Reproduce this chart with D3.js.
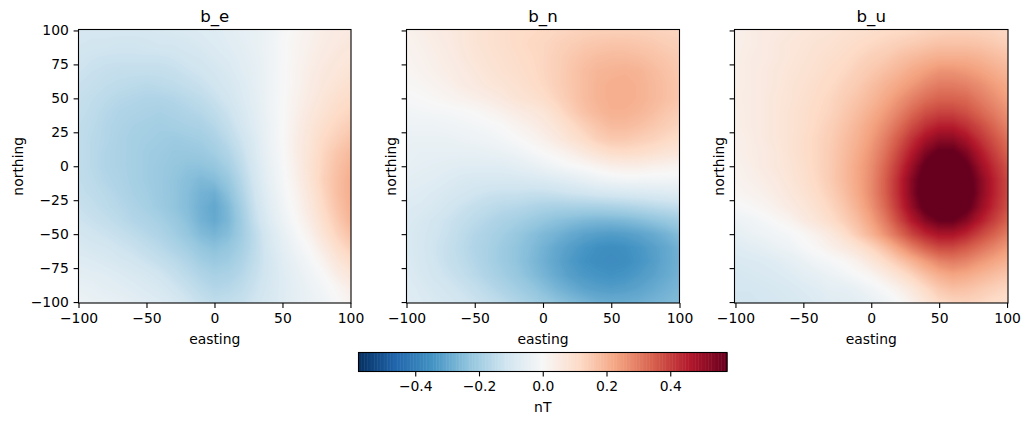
<!DOCTYPE html>
<html>
<head>
<meta charset="utf-8">
<style>
html,body{margin:0;padding:0;background:#fff}
text{font-family:"DejaVu Sans",sans-serif;fill:#000}
</style>
<script src="https://cdn.jsdelivr.net/npm/d3@7"></script>
</head>
<body>
<svg id="fig" width="1030" height="424"></svg>
<script>
// Magnetic field components (nT) on a 10 m grid; rows run north to south, columns west to east.
const eastingNodes = [-100,-90,-80,-70,-60,-50,-40,-30,-20,-10,0,10,20,30,40,50,60,70,80,90,100];
const northingNodes = [100,90,80,70,60,50,40,30,20,10,0,-10,-20,-30,-40,-50,-60,-70,-80,-90,-100];

const bE = [
[-.10,-.10,-.10,-.10,-.10,-.10,-.095,-.09,-.085,-.08,-.075,-.065,-.055,-.045,-.03,-.01,.01,.025,.04,.05,.055],
[-.105,-.11,-.11,-.115,-.115,-.11,-.105,-.105,-.10,-.09,-.08,-.07,-.06,-.045,-.03,-.005,.015,.03,.045,.055,.065],
[-.115,-.12,-.125,-.125,-.125,-.125,-.125,-.12,-.11,-.105,-.09,-.08,-.065,-.05,-.03,-.007,.015,.035,.05,.065,.07],
[-.12,-.13,-.135,-.14,-.14,-.14,-.14,-.135,-.125,-.115,-.105,-.09,-.07,-.055,-.03,-.005,.02,.04,.06,.07,.08],
[-.13,-.135,-.145,-.15,-.155,-.16,-.155,-.15,-.14,-.13,-.115,-.10,-.08,-.055,-.03,-.005,.02,.045,.065,.08,.095],
[-.135,-.145,-.155,-.165,-.17,-.175,-.175,-.17,-.16,-.15,-.13,-.11,-.085,-.06,-.03,-.004,.025,.05,.075,.095,.11],
[-.14,-.15,-.165,-.175,-.18,-.185,-.19,-.185,-.175,-.165,-.15,-.125,-.095,-.065,-.03,-.003,.03,.06,.085,.11,.125],
[-.145,-.155,-.17,-.18,-.19,-.195,-.20,-.195,-.19,-.185,-.165,-.14,-.105,-.07,-.035,-.002,.035,.07,.10,.125,.145],
[-.145,-.16,-.17,-.185,-.195,-.20,-.205,-.21,-.205,-.20,-.185,-.155,-.12,-.08,-.035,-.002,.04,.075,.115,.14,.165],
[-.145,-.16,-.175,-.185,-.195,-.205,-.21,-.22,-.22,-.215,-.20,-.175,-.135,-.085,-.04,-.005,.04,.08,.125,.16,.185],
[-.145,-.16,-.175,-.185,-.195,-.205,-.215,-.225,-.235,-.235,-.225,-.195,-.15,-.095,-.045,-.008,.035,.085,.13,.17,.20],
[-.145,-.155,-.17,-.18,-.195,-.205,-.215,-.23,-.245,-.26,-.25,-.22,-.165,-.105,-.05,-.012,.03,.08,.135,.175,.21],
[-.14,-.15,-.16,-.175,-.19,-.20,-.215,-.23,-.25,-.275,-.285,-.24,-.18,-.115,-.06,-.018,.02,.07,.125,.175,.21],
[-.13,-.14,-.155,-.165,-.18,-.195,-.21,-.23,-.25,-.28,-.30,-.26,-.195,-.125,-.07,-.025,.012,.06,.115,.165,.205],
[-.12,-.13,-.14,-.155,-.17,-.18,-.195,-.215,-.24,-.275,-.295,-.265,-.205,-.135,-.08,-.035,.002,.045,.10,.15,.195],
[-.105,-.115,-.125,-.135,-.15,-.165,-.18,-.20,-.225,-.255,-.27,-.25,-.205,-.15,-.095,-.05,-.012,.025,.08,.13,.17],
[-.09,-.10,-.105,-.12,-.13,-.145,-.16,-.18,-.20,-.225,-.24,-.225,-.195,-.15,-.10,-.06,-.025,.003,.05,.10,.14],
[-.075,-.08,-.09,-.10,-.11,-.125,-.14,-.155,-.175,-.20,-.215,-.205,-.18,-.145,-.105,-.07,-.04,-.012,.022,.07,.105],
[-.06,-.065,-.07,-.08,-.09,-.10,-.115,-.135,-.155,-.175,-.19,-.185,-.165,-.135,-.105,-.075,-.05,-.025,-.003,.04,.07],
[-.045,-.05,-.06,-.065,-.075,-.085,-.095,-.115,-.135,-.155,-.17,-.165,-.15,-.125,-.10,-.075,-.055,-.035,-.015,.008,.04],
[-.03,-.04,-.045,-.05,-.06,-.07,-.08,-.095,-.115,-.135,-.15,-.145,-.135,-.115,-.095,-.075,-.055,-.04,-.025,-.005,.02]
];

const bN = [
[.025,.035,.045,.055,.065,.08,.09,.10,.11,.115,.12,.125,.13,.135,.14,.14,.14,.14,.135,.13,.125],
[.02,.03,.04,.05,.065,.08,.09,.10,.11,.12,.125,.135,.145,.155,.16,.165,.165,.16,.155,.145,.14],
[.015,.025,.035,.045,.06,.075,.085,.095,.105,.115,.125,.14,.155,.17,.18,.185,.185,.18,.17,.16,.15],
[.01,.02,.03,.04,.05,.065,.08,.09,.10,.11,.125,.14,.16,.18,.195,.20,.205,.20,.185,.17,.155],
[.005,.01,.02,.03,.045,.055,.07,.08,.09,.105,.12,.14,.16,.18,.20,.21,.21,.205,.19,.175,.16],
[-.006,-.001,.006,.015,.025,.035,.045,.06,.08,.09,.105,.13,.155,.18,.20,.21,.21,.205,.19,.175,.16],
[-.02,-.015,-.012,-.01,-.005,.002,.015,.03,.045,.06,.075,.105,.14,.17,.19,.205,.205,.195,.18,.16,.145],
[-.03,-.03,-.03,-.025,-.02,-.015,-.008,.0,.02,.035,.055,.08,.11,.14,.165,.185,.185,.175,.16,.145,.13],
[-.04,-.04,-.04,-.04,-.035,-.03,-.025,-.015,-.003,.012,.03,.055,.085,.11,.14,.155,.155,.145,.135,.12,.105],
[-.045,-.05,-.05,-.05,-.05,-.05,-.045,-.04,-.03,-.015,.0,.015,.035,.06,.085,.105,.11,.105,.095,.08,.07],
[-.05,-.055,-.06,-.065,-.07,-.07,-.07,-.07,-.06,-.05,-.035,-.02,-.005,.003,.02,.035,.04,.04,.03,.025,.015],
[-.06,-.065,-.07,-.08,-.09,-.095,-.095,-.095,-.095,-.09,-.085,-.075,-.065,-.05,-.035,-.025,-.02,-.02,-.02,-.02,-.02],
[-.07,-.075,-.085,-.095,-.105,-.115,-.125,-.13,-.13,-.135,-.135,-.13,-.12,-.115,-.105,-.10,-.095,-.09,-.085,-.08,-.075],
[-.08,-.085,-.095,-.11,-.125,-.14,-.15,-.16,-.165,-.175,-.185,-.19,-.19,-.19,-.19,-.185,-.18,-.17,-.16,-.15,-.14],
[-.085,-.095,-.11,-.125,-.14,-.155,-.17,-.185,-.195,-.21,-.225,-.24,-.25,-.26,-.265,-.265,-.26,-.25,-.235,-.22,-.205],
[-.09,-.10,-.115,-.13,-.15,-.17,-.185,-.20,-.22,-.24,-.26,-.275,-.295,-.31,-.32,-.325,-.32,-.31,-.295,-.275,-.25],
[-.09,-.10,-.12,-.135,-.155,-.175,-.19,-.21,-.23,-.25,-.275,-.30,-.32,-.34,-.355,-.36,-.355,-.34,-.32,-.30,-.275],
[-.085,-.10,-.115,-.135,-.15,-.17,-.19,-.21,-.23,-.255,-.28,-.305,-.33,-.35,-.36,-.365,-.36,-.345,-.325,-.30,-.28],
[-.08,-.095,-.11,-.125,-.14,-.16,-.18,-.20,-.22,-.245,-.27,-.295,-.32,-.335,-.345,-.35,-.345,-.33,-.315,-.295,-.275],
[-.075,-.085,-.10,-.11,-.125,-.14,-.16,-.18,-.20,-.22,-.245,-.27,-.29,-.31,-.32,-.325,-.32,-.31,-.295,-.28,-.265],
[-.07,-.08,-.09,-.10,-.11,-.125,-.14,-.155,-.175,-.195,-.215,-.235,-.255,-.27,-.285,-.29,-.29,-.285,-.275,-.265,-.255]
];

const bU = [
[.03,.04,.05,.055,.06,.07,.075,.08,.09,.095,.10,.11,.115,.12,.13,.135,.14,.14,.135,.13,.12],
[.035,.04,.05,.06,.07,.075,.085,.09,.10,.11,.12,.13,.14,.15,.16,.17,.17,.17,.165,.155,.14],
[.035,.045,.05,.06,.07,.08,.09,.10,.11,.125,.14,.15,.17,.185,.20,.21,.21,.21,.20,.185,.17],
[.035,.045,.055,.065,.075,.085,.095,.11,.12,.14,.155,.175,.195,.22,.24,.26,.26,.25,.235,.215,.195],
[.035,.045,.055,.065,.08,.09,.105,.115,.135,.15,.175,.20,.225,.25,.28,.30,.30,.29,.27,.245,.22],
[.04,.045,.055,.07,.08,.095,.11,.125,.145,.165,.19,.22,.255,.29,.32,.34,.34,.33,.30,.27,.24],
[.035,.045,.055,.07,.085,.10,.115,.13,.155,.18,.21,.245,.285,.33,.37,.39,.39,.37,.335,.30,.265],
[.035,.045,.055,.07,.085,.10,.12,.14,.165,.195,.23,.27,.32,.375,.42,.45,.45,.42,.38,.335,.29],
[.03,.04,.055,.07,.085,.105,.125,.145,.175,.205,.245,.295,.355,.42,.48,.52,.52,.48,.42,.37,.32],
[.03,.04,.05,.065,.085,.105,.125,.15,.18,.215,.26,.315,.385,.46,.54,.59,.59,.54,.465,.40,.345],
[.025,.035,.05,.065,.08,.10,.125,.15,.185,.225,.27,.335,.41,.50,.59,.65,.65,.59,.50,.43,.37],
[.02,.03,.04,.055,.075,.095,.12,.15,.185,.225,.275,.345,.43,.53,.62,.70,.70,.62,.53,.45,.385],
[.01,.02,.03,.045,.065,.085,.11,.14,.175,.22,.275,.345,.43,.53,.63,.71,.71,.63,.53,.45,.385],
[-.008,.001,.012,.03,.05,.07,.095,.125,.16,.205,.26,.33,.415,.51,.60,.66,.66,.60,.51,.435,.375],
[-.035,-.025,-.012,.003,.02,.05,.075,.105,.14,.18,.235,.30,.38,.46,.53,.575,.575,.53,.46,.40,.345],
[-.055,-.04,-.03,-.02,-.01,.005,.03,.06,.10,.15,.20,.26,.325,.39,.44,.475,.475,.44,.39,.345,.30],
[-.075,-.065,-.055,-.04,-.03,-.008,.005,.03,.055,.085,.125,.175,.235,.295,.345,.38,.38,.355,.32,.285,.25],
[-.09,-.085,-.08,-.07,-.055,-.04,-.02,-.01,.005,.03,.07,.11,.155,.20,.245,.285,.30,.285,.255,.23,.205],
[-.10,-.095,-.09,-.085,-.075,-.06,-.05,-.035,-.02,-.003,.015,.05,.09,.13,.175,.21,.23,.22,.20,.18,.16],
[-.105,-.105,-.10,-.095,-.09,-.08,-.07,-.055,-.055,-.04,-.02,.0,.03,.07,.115,.155,.175,.17,.155,.14,.125],
[-.11,-.11,-.105,-.10,-.095,-.09,-.08,-.07,-.065,-.06,-.045,-.025,-.005,.03,.075,.115,.13,.135,.125,.11,.10]
];

const panelTitles = ["b_e", "b_n", "b_u"];
const panelGrids = [bE, bN, bU];
const axisTicks = [-100, -50, 0, 50, 100];
const northingTicks = [-100, -75, -50, -25, 0, 25, 50, 75, 100];
const colorbarTicks = [-0.4, -0.2, 0, 0.2, 0.4];
const colorLimit = 0.578;
const rdBuStops = ["#053061","#2166ac","#4393c3","#92c5de","#d1e5f0","#f7f7f7","#fddbc7","#f4a582","#d6604d","#b2182b","#67001f"];

const fontSize = 13.9;
const svg = d3.select("#fig");
const minus = s => String(s).replace("-", "\u2212");

const color = d3.scaleLinear()
  .domain(rdBuStops.map((_, i) => -colorLimit + i * colorLimit / 5))
  .range(rdBuStops)
  .clamp(true);

// Panel boxes and the slight overhang of each mesh past the ±100 ticks.
const panelBoxes = [
  {x0: 78.5, x1: 351, dom: [-100, 100.4]},
  {x0: 406.5, x1: 679.5, dom: [-100, 100]},
  {x0: 734.5, x1: 1008, dom: [-100.7, 100.7]}
];
const boxTop = 29.5, boxBottom = 303;
const y = d3.scaleLinear().domain([-100.7, 100.7]).range([boxBottom, boxTop]);
const thresholds = d3.range(-colorLimit, colorLimit + 0.001, 0.004);

panelBoxes.forEach((box, k) => {
  const x = d3.scaleLinear().domain(box.dom).range([box.x0, box.x1]);
  const g = svg.append("g");
  const clipId = "clip" + k;
  svg.append("clipPath").attr("id", clipId).append("rect")
    .attr("x", box.x0).attr("y", boxTop)
    .attr("width", box.x1 - box.x0).attr("height", boxBottom - boxTop);

  // Filled value bands: each contour covers the cells at or above its threshold.
  const flat = panelGrids[k].flat();
  const nx = eastingNodes.length, ny = northingNodes.length;
  const project = d3.geoTransform({
    point(cx, cy) {
      this.stream.point(x(eastingNodes[0] + (cx - 0.5) * (eastingNodes[1] - eastingNodes[0])),
                        y(northingNodes[0] + (cy - 0.5) * (northingNodes[1] - northingNodes[0])));
    }
  });
  const path = d3.geoPath(project);
  const bands = d3.contours().size([nx, ny]).thresholds(thresholds)(flat);
  const field = g.append("g").attr("clip-path", `url(#${clipId})`);
  field.append("rect")
    .attr("x", box.x0).attr("y", boxTop)
    .attr("width", box.x1 - box.x0).attr("height", boxBottom - boxTop)
    .attr("fill", color(d3.min(flat)));
  field.selectAll("path").data(bands.filter(b => b.coordinates.length)).join("path")
    .attr("d", path)
    .attr("fill", b => color(b.value + 0.002));

  // Frame
  g.append("rect")
    .attr("x", box.x0).attr("y", boxTop)
    .attr("width", box.x1 - box.x0).attr("height", boxBottom - boxTop)
    .attr("fill", "none").attr("stroke", "#000").attr("stroke-width", 1.1);

  // Axes
  const xAxis = d3.axisBottom(x).tickValues(axisTicks).tickSize(4.9).tickPadding(4.8).tickFormat(minus);
  const yAxis = d3.axisLeft(y).tickValues(northingTicks).tickSize(4.9).tickPadding(4.8)
    .tickFormat(k === 0 ? minus : "");
  [g.append("g").attr("transform", `translate(0,${boxBottom})`).call(xAxis),
   g.append("g").attr("transform", `translate(${box.x0},0)`).call(yAxis)].forEach(a => {
    a.select(".domain").remove();
    a.selectAll("line").attr("stroke", "#000").attr("stroke-width", 1.1);
    a.selectAll("text").attr("font-size", fontSize).attr("font-family", null);
  });

  const mid = (box.x0 + box.x1) / 2;
  g.append("text").attr("x", mid).attr("y", 22).attr("text-anchor", "middle")
    .attr("font-size", 16.6).text(panelTitles[k]);
  g.append("text").attr("x", mid).attr("y", 344).attr("text-anchor", "middle")
    .attr("font-size", fontSize).text("easting");
  g.append("text").attr("transform", `translate(${box.x0 - (k === 0 ? 56 : 11)},${(boxTop + boxBottom) / 2}) rotate(-90)`)
    .attr("text-anchor", "middle").attr("font-size", fontSize).text("northing");
});

// Colour bar
const cbX = d3.scaleLinear().domain([-colorLimit, colorLimit]).range([358.5, 727]);
const cbTop = 352.5, cbBottom = 371.5;
const cb = svg.append("g");
const levels = d3.range(256).map(i => -colorLimit + 2 * colorLimit * i / 256);
cb.selectAll("rect.level").data(levels).join("rect").attr("class", "level")
  .attr("x", d => cbX(d)).attr("y", cbTop)
  .attr("width", d => cbX(d + 2 * colorLimit / 256) - cbX(d) + 0.5)
  .attr("height", cbBottom - cbTop)
  .attr("fill", d => color(d + colorLimit / 256));
cb.append("rect").attr("x", 358.5).attr("y", cbTop).attr("width", 727 - 358.5)
  .attr("height", cbBottom - cbTop).attr("fill", "none").attr("stroke", "#000").attr("stroke-width", 1.1);
const cbAxis = cb.append("g").attr("transform", `translate(0,${cbBottom})`)
  .call(d3.axisBottom(cbX).tickValues(colorbarTicks).tickSize(4.9).tickPadding(4.8)
    .tickFormat(d => minus(d3.format(".1f")(d))));
cbAxis.select(".domain").remove();
cbAxis.selectAll("line").attr("stroke", "#000").attr("stroke-width", 1.1);
cbAxis.selectAll("text").attr("font-size", fontSize).attr("font-family", null);
cb.append("text").attr("x", 542.75).attr("y", 412).attr("text-anchor", "middle")
  .attr("font-size", fontSize).text("nT");
</script>
</body>
</html>
